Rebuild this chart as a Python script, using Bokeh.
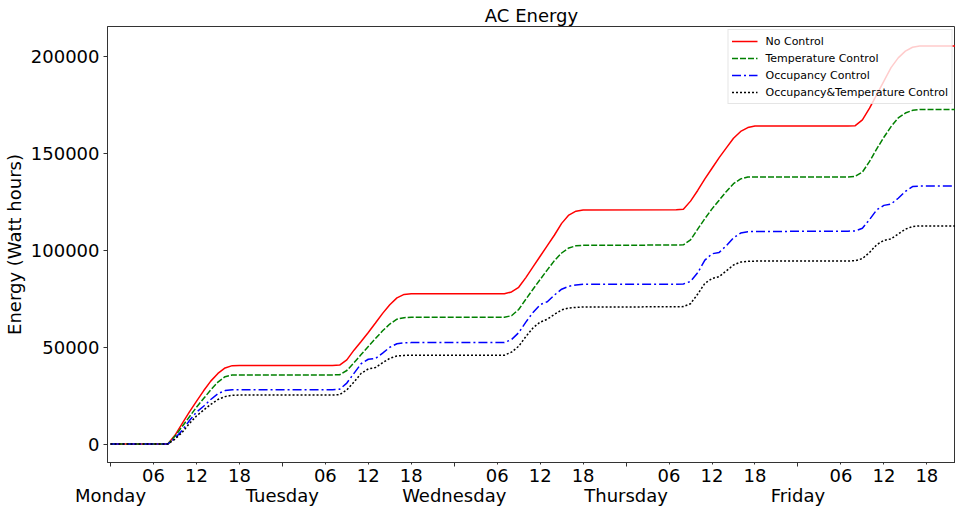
from bokeh.plotting import figure
from bokeh.models import Range1d, LinearAxis, FixedTicker, NumeralTickFormatter
from bokeh.embed import file_html
from bokeh.resources import INLINE

# hours since Monday 00:00
hours = [0, 8, 9, 10, 11, 12, 13, 14, 15, 16, 17, 18,
         31, 32, 33, 34, 35, 36, 37, 38, 39, 40, 41, 42,
         55, 56, 57, 58, 59, 60, 61, 62, 63, 64, 65, 66,
         79, 80, 81, 82, 83, 84, 85, 86, 87, 88, 89, 90,
         103, 104, 105, 106, 107, 108, 109, 110, 111, 112, 113, 114,
         120]

no_control = [0, 0, 4500, 10500, 16500, 22000, 27500, 32500, 36500, 39300, 40500, 40600,
              40600, 40800, 43500, 48500, 53000, 57600, 62500, 67500, 72000, 75500, 77300, 77600,
              77600, 78600, 81000, 86000, 91500, 97000, 102500, 108000, 114000, 118300, 120300, 120900,
              121000, 121300, 125500, 131000, 137000, 142500, 148000, 153000, 158000, 161500, 163500, 164300,
              164300, 164500, 167500, 173500, 180500, 187500, 194500, 199500, 203000, 205000, 205600, 205600,
              205600]

temperature = [0, 0, 4000, 9000, 14000, 19000, 23500, 28000, 32000, 34800, 35700, 35700,
               35700, 35800, 38000, 42000, 46200, 50400, 54500, 58500, 62000, 64500, 65300, 65500,
               65500, 66300, 69500, 74800, 80000, 85000, 90000, 94800, 98700, 101300, 102400, 102700,
               102800, 102900, 105500, 111000, 116500, 121500, 126000, 130500, 134500, 137000, 138000, 138000,
               138000, 138300, 140500, 146000, 152500, 158500, 164000, 168500, 171000, 172400, 172800, 172800,
               172800]

occupancy = [0, 0, 3000, 7000, 12000, 16500, 19500, 23000, 26000, 27600, 28100, 28100,
             28100, 28300, 31500, 36500, 41500, 43800, 44200, 47000, 50000, 51800, 52300, 52400,
             52400, 54000, 57500, 63000, 68000, 72000, 73500, 77000, 80000, 81500, 82200, 82500,
             82600, 82700, 84000, 88500, 95000, 98300, 99000, 102500, 106500, 109000, 109700, 109800,
             110000, 110100, 111500, 116000, 121000, 123300, 124000, 127000, 130500, 133000, 133300, 133300,
             133300]

occ_temp = [0, 0, 2500, 6000, 10500, 14500, 17500, 20500, 23000, 24500, 25200, 25300,
            25300, 25500, 28000, 32000, 36500, 38800, 39500, 42000, 44300, 45500, 45800, 45900,
            45900, 47500, 50500, 55500, 60000, 63000, 64500, 67000, 69300, 70300, 70600, 70800,
            70900, 71000, 72500, 77500, 83000, 85500, 86500, 89500, 92500, 94000, 94400, 94500,
            94600, 94700, 95800, 99000, 103000, 105200, 106000, 108500, 111000, 112400, 112700, 112700,
            112700]

series_names = ["No Control", "Temperature Control", "Occupancy Control", "Occupancy&Temperature Control"]

day_ticks = [0, 24, 48, 72, 96]
day_labels = ["Monday", "Tuesday", "Wednesday", "Thursday", "Friday"]
hour_ticks = [6, 12, 18, 30, 36, 42, 54, 60, 66, 78, 84, 90, 102, 108, 114]
hour_labels = ["06", "12", "18"] * 5
y_ticks = [0, 50000, 100000, 150000, 200000]

FONT = "DejaVu Sans"
AXC = "#333333"

p = figure(width=955, height=508, output_backend="svg", toolbar_location=None,
           x_axis_location=None, y_axis_location="left",
           x_range=Range1d(-0.42, 118.0), y_range=Range1d(-9540, 215720),
           min_border_left=105, min_border_right=0, min_border_top=26, min_border_bottom=45,
           title="AC Energy")
p.background_fill_color = "white"
p.border_fill_color = "white"
p.outline_line_color = AXC
p.outline_line_width = 1
p.grid.visible = False

p.title.align = "center"
p.title.text_font = FONT
p.title.text_font_size = "18px"
p.title.text_font_style = "normal"
p.title.text_color = "black"
p.title.standoff = 1
p.title.offset = 5

ya = p.yaxis[0]
ya.ticker = FixedTicker(ticks=y_ticks)
ya.formatter = NumeralTickFormatter(format="0")
ya.axis_label = "Energy (Watt hours)"
ya.axis_label_text_font = FONT
ya.axis_label_text_font_size = "18px"
ya.axis_label_text_font_style = "normal"
ya.axis_label_text_color = "black"
ya.axis_label_standoff = 3
ya.major_label_text_font = FONT
ya.major_label_text_font_size = "18px"
ya.major_label_text_color = "black"
ya.major_label_standoff = 4
ya.major_tick_in = 0
ya.major_tick_out = 4
ya.major_tick_line_color = AXC
ya.minor_tick_line_color = None
ya.axis_line_color = AXC

# hour-of-day axis
xa = LinearAxis(ticker=FixedTicker(ticks=hour_ticks, minor_ticks=day_ticks),
                major_label_overrides={t: l for t, l in zip(hour_ticks, hour_labels)})
xa.major_label_text_font = FONT
xa.major_label_text_font_size = "18px"
xa.major_label_text_color = "black"
xa.major_label_standoff = 2
xa.major_tick_in = 0
xa.major_tick_out = 2
xa.minor_tick_in = 0
xa.minor_tick_out = 4
xa.major_tick_line_color = AXC
xa.minor_tick_line_color = AXC
xa.axis_line_color = AXC
p.add_layout(xa, "below")

# day axis
da = LinearAxis(ticker=FixedTicker(ticks=day_ticks),
                major_label_overrides={t: l for t, l in zip(day_ticks, day_labels)})
da.major_label_text_font = FONT
da.major_label_text_font_size = "18px"
da.major_label_text_color = "black"
da.major_label_standoff = 0
da.major_tick_in = 0
da.major_tick_out = 0
da.major_tick_line_color = None
da.minor_tick_line_color = None
da.axis_line_color = None
p.add_layout(da, "below")

p.line(hours, no_control, line_color="#ff0000", line_width=1.5, legend_label=series_names[0])
p.line(hours, temperature, line_color="#008000", line_width=1.5, line_dash="6 2",
       legend_label=series_names[1])
p.line(hours, occupancy, line_color="#0000ff", line_width=1.5, line_dash="9 3 2 3",
       legend_label=series_names[2])
p.line(hours, occ_temp, line_color="black", line_width=1.5, line_dash="2 2",
       legend_label=series_names[3])

lg = p.legend[0]
lg.location = "top_right"
lg.margin = 3
lg.padding = 3
lg.spacing = 1
lg.glyph_width = 26
lg.glyph_height = 16
lg.label_height = 16
lg.label_standoff = 8
lg.label_text_font = FONT
lg.label_text_font_size = "11px"
lg.label_text_color = "black"
lg.border_line_color = "#cccccc"
lg.background_fill_alpha = 0.8

open("out.html", "w").write(file_html(p, INLINE))
